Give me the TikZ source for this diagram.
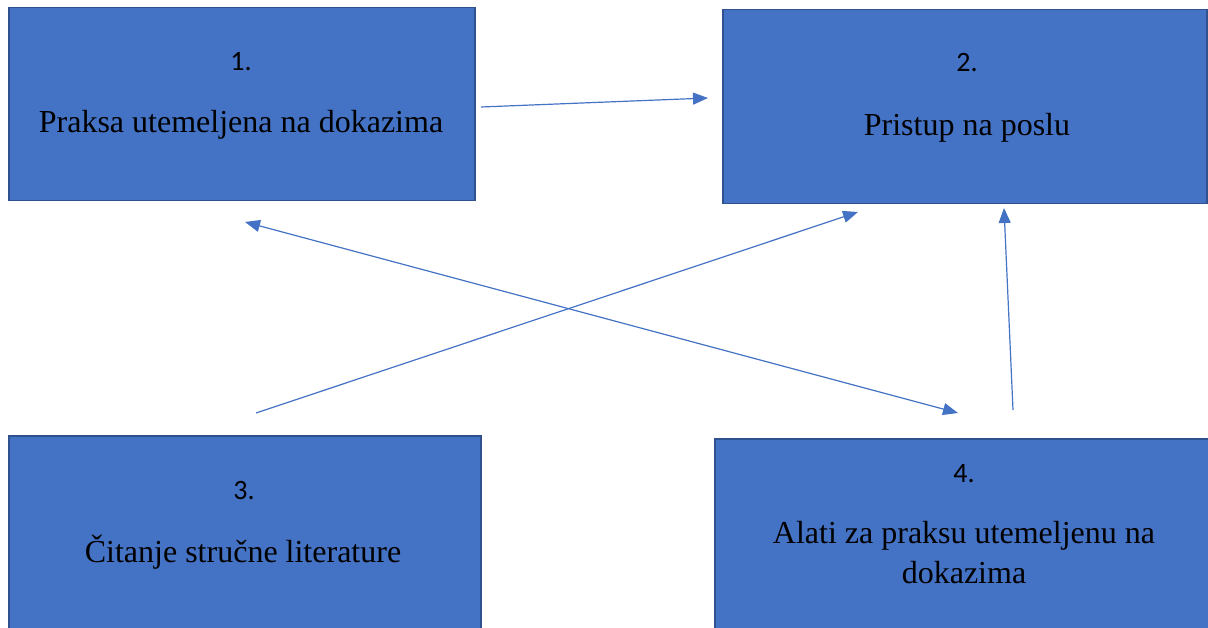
\documentclass[tikz,border=0pt]{standalone}
\usepackage{fontspec}
\setmainfont{Liberation Serif}
\newfontfamily\numfont{Carlito}
\usepackage{xcolor}
\usetikzlibrary{positioning,arrows.meta,calc}
\definecolor{boxfill}{HTML}{4472C4}
\definecolor{boxline}{HTML}{2F528F}

\begin{document}
\begin{tikzpicture}[x=1pt, y=-1pt,
    stepbox/.style={draw=boxline, line width=1.5pt, fill=boxfill, inner sep=0pt, anchor=north west},
    numtxt/.style={font=\numfont\fontsize{28}{32}\selectfont, anchor=base},
    maintxt/.style={font=\fontsize{32}{40}\selectfont, anchor=base, align=center},
    link/.style={draw=boxfill, line width=1.2pt, -{Triangle[length=15pt,width=12pt]}}]
\useasboundingbox (0,0) rectangle (1208,628);

% Boxes
\node[stepbox, minimum width=466pt, minimum height=193pt] (b1) at (8,7) {};
\node[stepbox, minimum width=484pt, minimum height=194pt] (b2) at (722,9) {};
\node[stepbox, minimum width=472pt, minimum height=200pt] (b3) at (8,435) {};
\node[stepbox, minimum width=510pt, minimum height=200pt] (b4) at (714,438) {};

% Numbers
\node[numtxt] (n1) at (241,71) {1.};
\node[numtxt] (n2) at (967,72) {2.};
\node[numtxt] (n3) at (244,499) {3.};
\node[numtxt] (n4) at (964,482) {4.};

% Texts
\node[maintxt] (t1) at (241,133) {Praksa utemeljena na dokazima};
\node[maintxt] (t2) at (967,136) {Pristup na poslu};
\node[maintxt] (t3) at (243,562) {Čitanje stručne literature};
\node[maintxt] (t4a) at (964,543) {Alati za praksu utemeljenu na};
\node[maintxt] (t4b) at (964,583) {dokazima};

% Arrow ends
\coordinate (p1s) at (481,107);
\coordinate (p1e) at (708,98);
\coordinate (pxa) at (245,222);
\coordinate (pxb) at (958,413);
\coordinate (p3s) at (256,413);
\coordinate (p3e) at (858,212);
\coordinate (p4s) at (1013,410);
\coordinate (p4e) at (1004,208);

% Arrows
\draw[link] (p1s) -- (p1e);
\draw[link, {Triangle[length=15pt,width=12pt]}-{Triangle[length=15pt,width=12pt]}] (pxa) -- (pxb);
\draw[link] (p3s) -- (p3e);
\draw[link] (p4s) -- (p4e);

\end{tikzpicture}
\end{document}
